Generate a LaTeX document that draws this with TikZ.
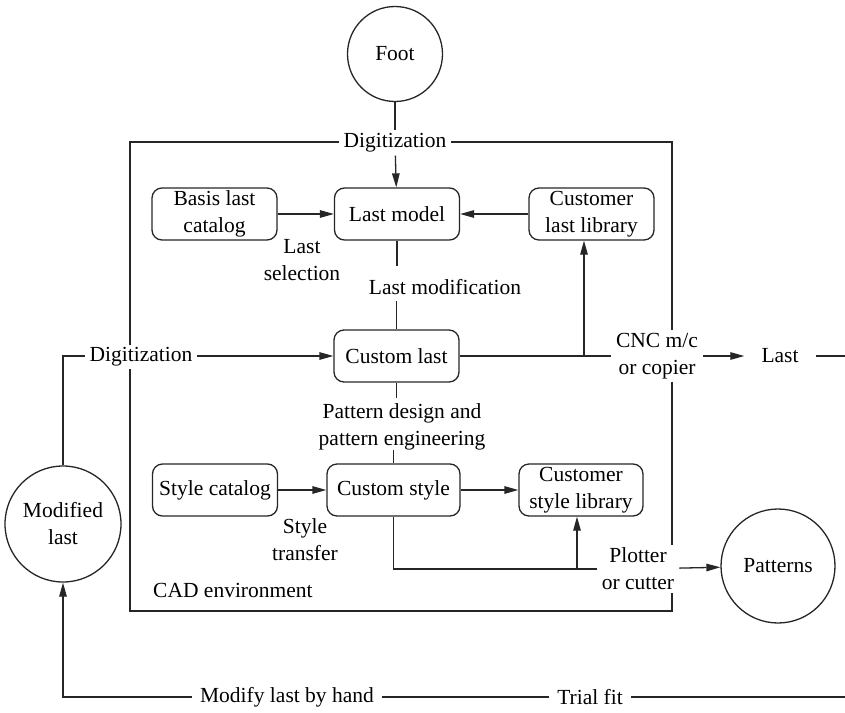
\documentclass[tikz,border=0pt]{standalone}
\usepackage{fontspec}
\setmainfont{Liberation Serif}
\usetikzlibrary{arrows.meta,backgrounds}
\begin{document}
\begin{tikzpicture}[x=1pt,y=-1pt,
  every node/.style={font=\fontsize{21.5}{27}\selectfont, text=black},
  box/.style={draw=black!85, line width=1.3pt, rounded corners=10pt, minimum width=125pt, minimum height=52pt, align=center, inner sep=0pt},
  circ/.style={draw=black!85, line width=1.3pt, circle, inner sep=0pt, align=center},
  lbl/.style={fill=white, inner xsep=5pt, inner ysep=3pt, align=center},
  conn/.style={draw=black!85, line width=1.3pt},
  arr/.style={conn, -{Triangle[length=14pt,width=7.5pt]}},
]
\useasboundingbox (0,0) rectangle (845,712);
\node[circ, minimum size=95pt] (foot) at (395,54) {Foot};
\node[lbl] (dig1) at (395,143) {Digitization};
\node[box] (basis) at (214.5,214) {Basis last\\catalog};
\node[box] (lastm) at (397,214) {Last model};
\node[box] (custlib) at (591.5,214) {Customer\\last library};
\node[align=center] (lastsel) at (302,260) {Last\\selection};
\node (lastmod) at (445,287) {Last modification};
\node[box] (custlast) at (396.5,356) {Custom last};
\node[lbl] (dig2) at (141,357) {Digitization};
\node[lbl] (cnc) at (657,356) {CNC m/c\\or copier};
\node[inner xsep=17pt] (lastout) at (780,356) {Last};
\node[align=center] (pattxt) at (402,427) {Pattern design and\\pattern engineering};
\node[box] (stylecat) at (215,490) {Style catalog};
\node[box, minimum width=133pt] (custstyle) at (393.5,490) {Custom style};
\node[box, minimum width=124pt] (custstylelib) at (581,490) {Customer\\style library};
\node[align=center] (stytr) at (305,540) {Style\\transfer};
\node[lbl] (plotter) at (638,569) {Plotter\\or cutter};
\node[circ, minimum size=114pt] (patterns) at (778,566) {Patterns};
\node[circ, minimum size=116pt] (modlast) at (63,524) {Modified\\last};
\node[anchor=west, inner sep=0pt] (cadenv) at (153,590) {CAD environment};
\node[lbl, inner xsep=8pt] (modhand) at (287,697) {Modify last by hand};
\node[lbl, inner xsep=8pt] (trial) at (590,697) {Trial fit};
\coordinate (j1) at (584,356);
\coordinate (j2) at (577,569);
\coordinate (rend) at (845,356);
\coordinate (bend) at (845,697);
\coordinate (cadtl) at (130,142);
\coordinate (cadbr) at (672,611);
\begin{scope}[on background layer]
\draw[conn] (cadtl) rectangle (cadbr);
\draw[arr] (modlast) |- (custlast);
\draw[arr] (bend) -| (modlast);
\end{scope}
\draw[conn] (foot) -- (dig1);
\draw[arr] (dig1) -- (lastm);
\draw[arr] (basis) -- (lastm);
\draw[arr] (custlib) -- (lastm);
\draw[conn] (lastm.south) -- ++(0,25);
\draw[conn] (custlast.north) -- ++(0,-28);
\draw[conn] (custlast.south) -- ++(0,15);
\draw[conn] (custstyle.north) -- ++(0,-13);
\draw[conn] (custlast) -- (cnc);
\draw[arr] (j1) -- (j1 |- custlib.south);
\draw[arr] (cnc) -- (lastout);
\draw[conn] (lastout) -- (rend);
\draw[arr] (stylecat) -- (custstyle);
\draw[arr] (custstyle) -- (custstylelib);
\draw[conn] (custstyle.south) |- (plotter);
\draw[arr] (j2) -- (j2 |- custstylelib.south);
\draw[arr] (plotter) -- (patterns);
\end{tikzpicture}
\end{document}
